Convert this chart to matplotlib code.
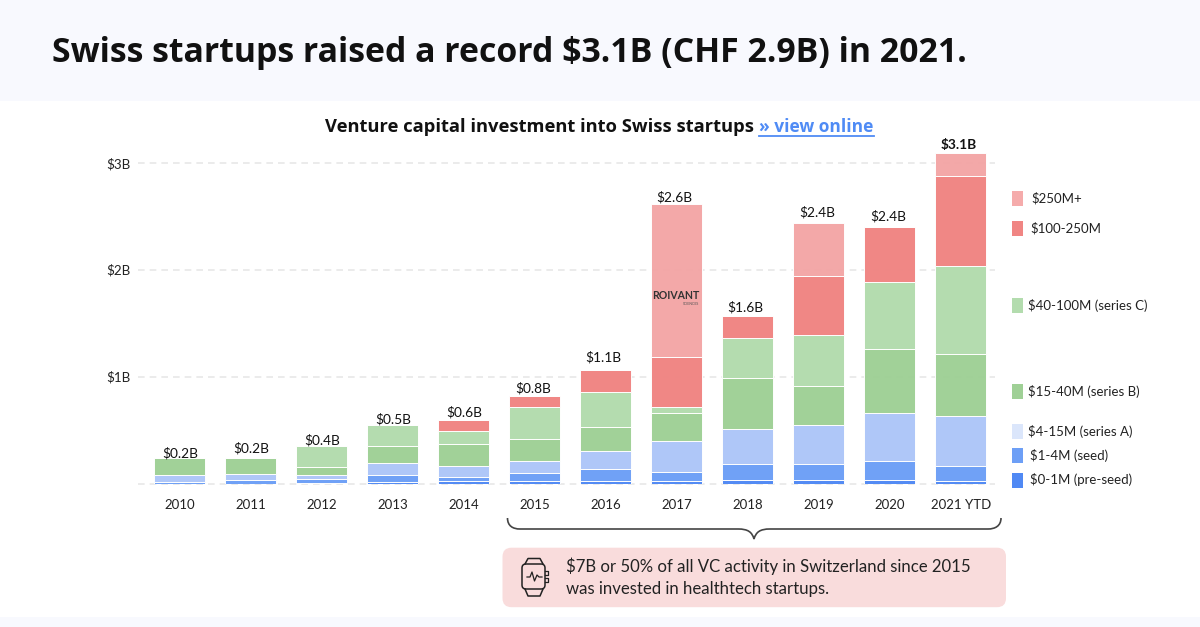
import matplotlib
matplotlib.use("Agg")
import matplotlib.pyplot as plt
import numpy as np
from matplotlib.patches import FancyBboxPatch, PathPatch, Rectangle
from matplotlib.path import Path

plt.rcParams['font.family'] = ['Lato', 'DejaVu Sans']
head_font = ['Open Sans', 'DejaVu Sans']

years = ['2010', '2011', '2012', '2013', '2014', '2015', '2016', '2017', '2018', '2019', '2020', '2021 YTD']
totals = ['$0.2B', '$0.2B', '$0.4B', '$0.5B', '$0.6B', '$0.8B', '$1.1B', '$2.6B', '$1.6B', '$2.4B', '$2.4B', '$3.1B']

# values in $B
pre_seed = [0.000, 0.000, 0.005, 0.018, 0.025, 0.025, 0.025, 0.028, 0.037, 0.037, 0.037, 0.022]
seed = [0.015, 0.030, 0.037, 0.060, 0.040, 0.070, 0.115, 0.075, 0.150, 0.150, 0.175, 0.140]
series_a = [0.060, 0.055, 0.035, 0.110, 0.095, 0.115, 0.160, 0.290, 0.327, 0.360, 0.449, 0.470]
series_b = [0.160, 0.150, 0.075, 0.160, 0.210, 0.205, 0.225, 0.270, 0.473, 0.368, 0.600, 0.580]
series_c = [0.000, 0.000, 0.195, 0.200, 0.120, 0.300, 0.330, 0.050, 0.377, 0.470, 0.626, 0.826]
m100_250 = [0.000, 0.000, 0.000, 0.000, 0.100, 0.100, 0.205, 0.470, 0.200, 0.555, 0.514, 0.840]
m250_plus = [0.000, 0.000, 0.000, 0.000, 0.000, 0.000, 0.000, 1.433, 0.000, 0.500, 0.000, 0.218]

series = [pre_seed, seed, series_a, series_b, series_c, m100_250, m250_plus]
bar_colors = ['#5089f4', '#6d9ff6', '#aec6f8', '#9fd096', '#b3dcae', '#f08583', '#f3a6a6']

legend_names = ['$250M+', '$100-250M', '$40-100M (series C)', '$15-40M (series B)', '$4-15M (series A)', '$1-4M (seed)', '$0-1M (pre-seed)']
legend_colors = ['#f5abab', '#f08583', '#b3dcae', '#9fd096', '#dbe6fb', '#6d9ff6', '#5089f4']
legend_y = [198, 228, 305, 391, 431, 455, 480]
legend_x = [1031, 1030, 1028, 1028, 1028, 1030, 1030]

# px gap between bar top and label centre, px shift in x
label_gap = [5, 10, 6, 6, 8, 8, 13, 7, 9, 10, 11, 8]
label_dx = [0, 0, 0, 0, 0, -2, -2, -2, -2, -2, -2, -2]

ink = '#222222'

fig = plt.figure(figsize=(12, 6.27), dpi=100, facecolor='white')

# overlay in pixel coords for bands, legend, brace, callout
over = fig.add_axes([0, 0, 1, 1])
over.set_xlim(0, 1200)
over.set_ylim(627, 0)
over.axis('off')
over.add_patch(Rectangle((0, 0), 1200, 101, fc='#f8f9fe', ec='none'))
over.add_patch(Rectangle((0, 617), 1200, 10, fc='#f8f9fe', ec='none'))

# chart axes, baseline at y=483.5 and 106.9 px per $1B
ax = fig.add_axes([138 / 1200, 1 - 483.5 / 627, (995 - 138) / 1200, (483.5 - 140) / 627])
ax.patch.set_alpha(0)
ax.set_xlim((138 - 179.8) / 71, (995 - 179.8) / 71)
ax.set_ylim(0, (483.5 - 140) / 106.9)
for s in ax.spines.values():
    s.set_visible(False)

x = np.arange(len(years))
ax.set_yticks([0, 1, 2, 3])
ax.set_yticklabels(['', '$1B', '$2B', '$3B'], fontsize=9.6, color=ink)
ax.yaxis.grid(True, color='#e8e8e8', linestyle=(0, (4, 3)), linewidth=1.2, clip_on=False)
ax.set_axisbelow(True)
ax.tick_params(axis='both', length=0)
ax.tick_params(axis='y', pad=5.5)
ax.tick_params(axis='x', pad=11.5)
ax.set_xticks(x)
ax.set_xticklabels(years, fontsize=9.5, color=ink)

bottom = np.zeros(len(years))
for vals, col in zip(series, bar_colors):
    ax.bar(x, vals, width=51 / 71, bottom=bottom, color=col, edgecolor='#ffffff', linewidth=0.7, alpha=0.98)
    bottom = bottom + np.array(vals)

for i, t in enumerate(totals):
    ax.annotate(t, (x[i], bottom[i]), xytext=(label_dx[i] * 0.72, label_gap[i] * 0.72), textcoords='offset points',
                ha='center', va='center', fontsize=9.9, color='#111111',
                fontweight='bold' if i == 11 else 'normal', zorder=5)

# logo text on the 2017 bar
ax.text(x[7] - 0.01, 1.755, 'ROIVANT', ha='center', va='center', fontsize=7.6, fontweight='bold', color='#333333')
ax.text(x[7] + 0.2, 1.68, 'SCIENCES', ha='center', va='center', fontsize=2.5, color='#555555')

# headings
over.text(52, 53, 'Swiss startups raised a record $3.1B (CHF 2.9B) in 2021.', fontsize=24.4, fontweight='bold',
          family=head_font, color='#111111', va='center', ha='left')
over.text(325, 127, 'Venture capital investment into Swiss startups', fontsize=13.2, fontweight='bold',
          family=head_font, color='#111111', va='center', ha='left')
over.text(759, 127, '» view online', fontsize=12.5, fontweight='bold', family=head_font, color='#4f8bf5', va='center', ha='left')
over.plot([759, 874], [135.5, 135.5], color='#4f8bf5', lw=1.3)

# legend
for name, col, ly, lx in zip(legend_names, legend_colors, legend_y, legend_x):
    over.add_patch(Rectangle((1012, ly - 7.5), 11, 15, fc=col, ec='none'))
    over.text(lx, ly, name, fontsize=9.5, color=ink, va='center', ha='left')

# brace under 2015-2021
verts = [(507.5, 518), (507.5, 526), (513, 529), (520, 529), (738, 529), (748, 529), (752, 532), (754, 539),
         (756, 532), (760, 529), (770, 529), (988, 529), (995, 529), (1001, 526), (1001, 518)]
codes = [Path.MOVETO, Path.CURVE4, Path.CURVE4, Path.CURVE4, Path.LINETO, Path.CURVE4, Path.CURVE4, Path.CURVE4,
         Path.CURVE4, Path.CURVE4, Path.CURVE4, Path.LINETO, Path.CURVE4, Path.CURVE4, Path.CURVE4]
over.add_patch(PathPatch(Path(verts, codes), fc='none', ec='#444444', lw=1.2))

# callout box
over.add_patch(FancyBboxPatch((502.5, 547.7), 503.5, 59.5, boxstyle='round,pad=0,rounding_size=9', fc='#f9dcdc', ec='none'))
over.text(566, 566, '$7B or 50% of all VC activity in Switzerland since 2015', fontsize=12.1, color=ink, va='center', ha='left')
over.text(566, 589, 'was invested in healthtech startups.', fontsize=12.1, color=ink, va='center', ha='left')

# watch icon
over.add_patch(FancyBboxPatch((522, 564), 23, 25, boxstyle='round,pad=0,rounding_size=4', fc='none', ec=ink, lw=1.1))
over.plot([525, 528, 540, 543], [564, 558.5, 558.5, 564], color=ink, lw=1.1)
over.plot([525, 528, 540, 543], [589, 596, 596, 589], color=ink, lw=1.1)
over.plot([527, 530, 532, 534.5, 537, 539, 542], [577, 577, 572, 581, 575, 577, 577], color=ink, lw=0.9)
over.plot([545, 547.5, 547.5, 545], [571, 571, 575, 575], color=ink, lw=0.9)
over.plot([545, 547.5, 547.5, 545], [578, 578, 582, 582], color=ink, lw=0.9)

fig.savefig('out.png', dpi=100)
